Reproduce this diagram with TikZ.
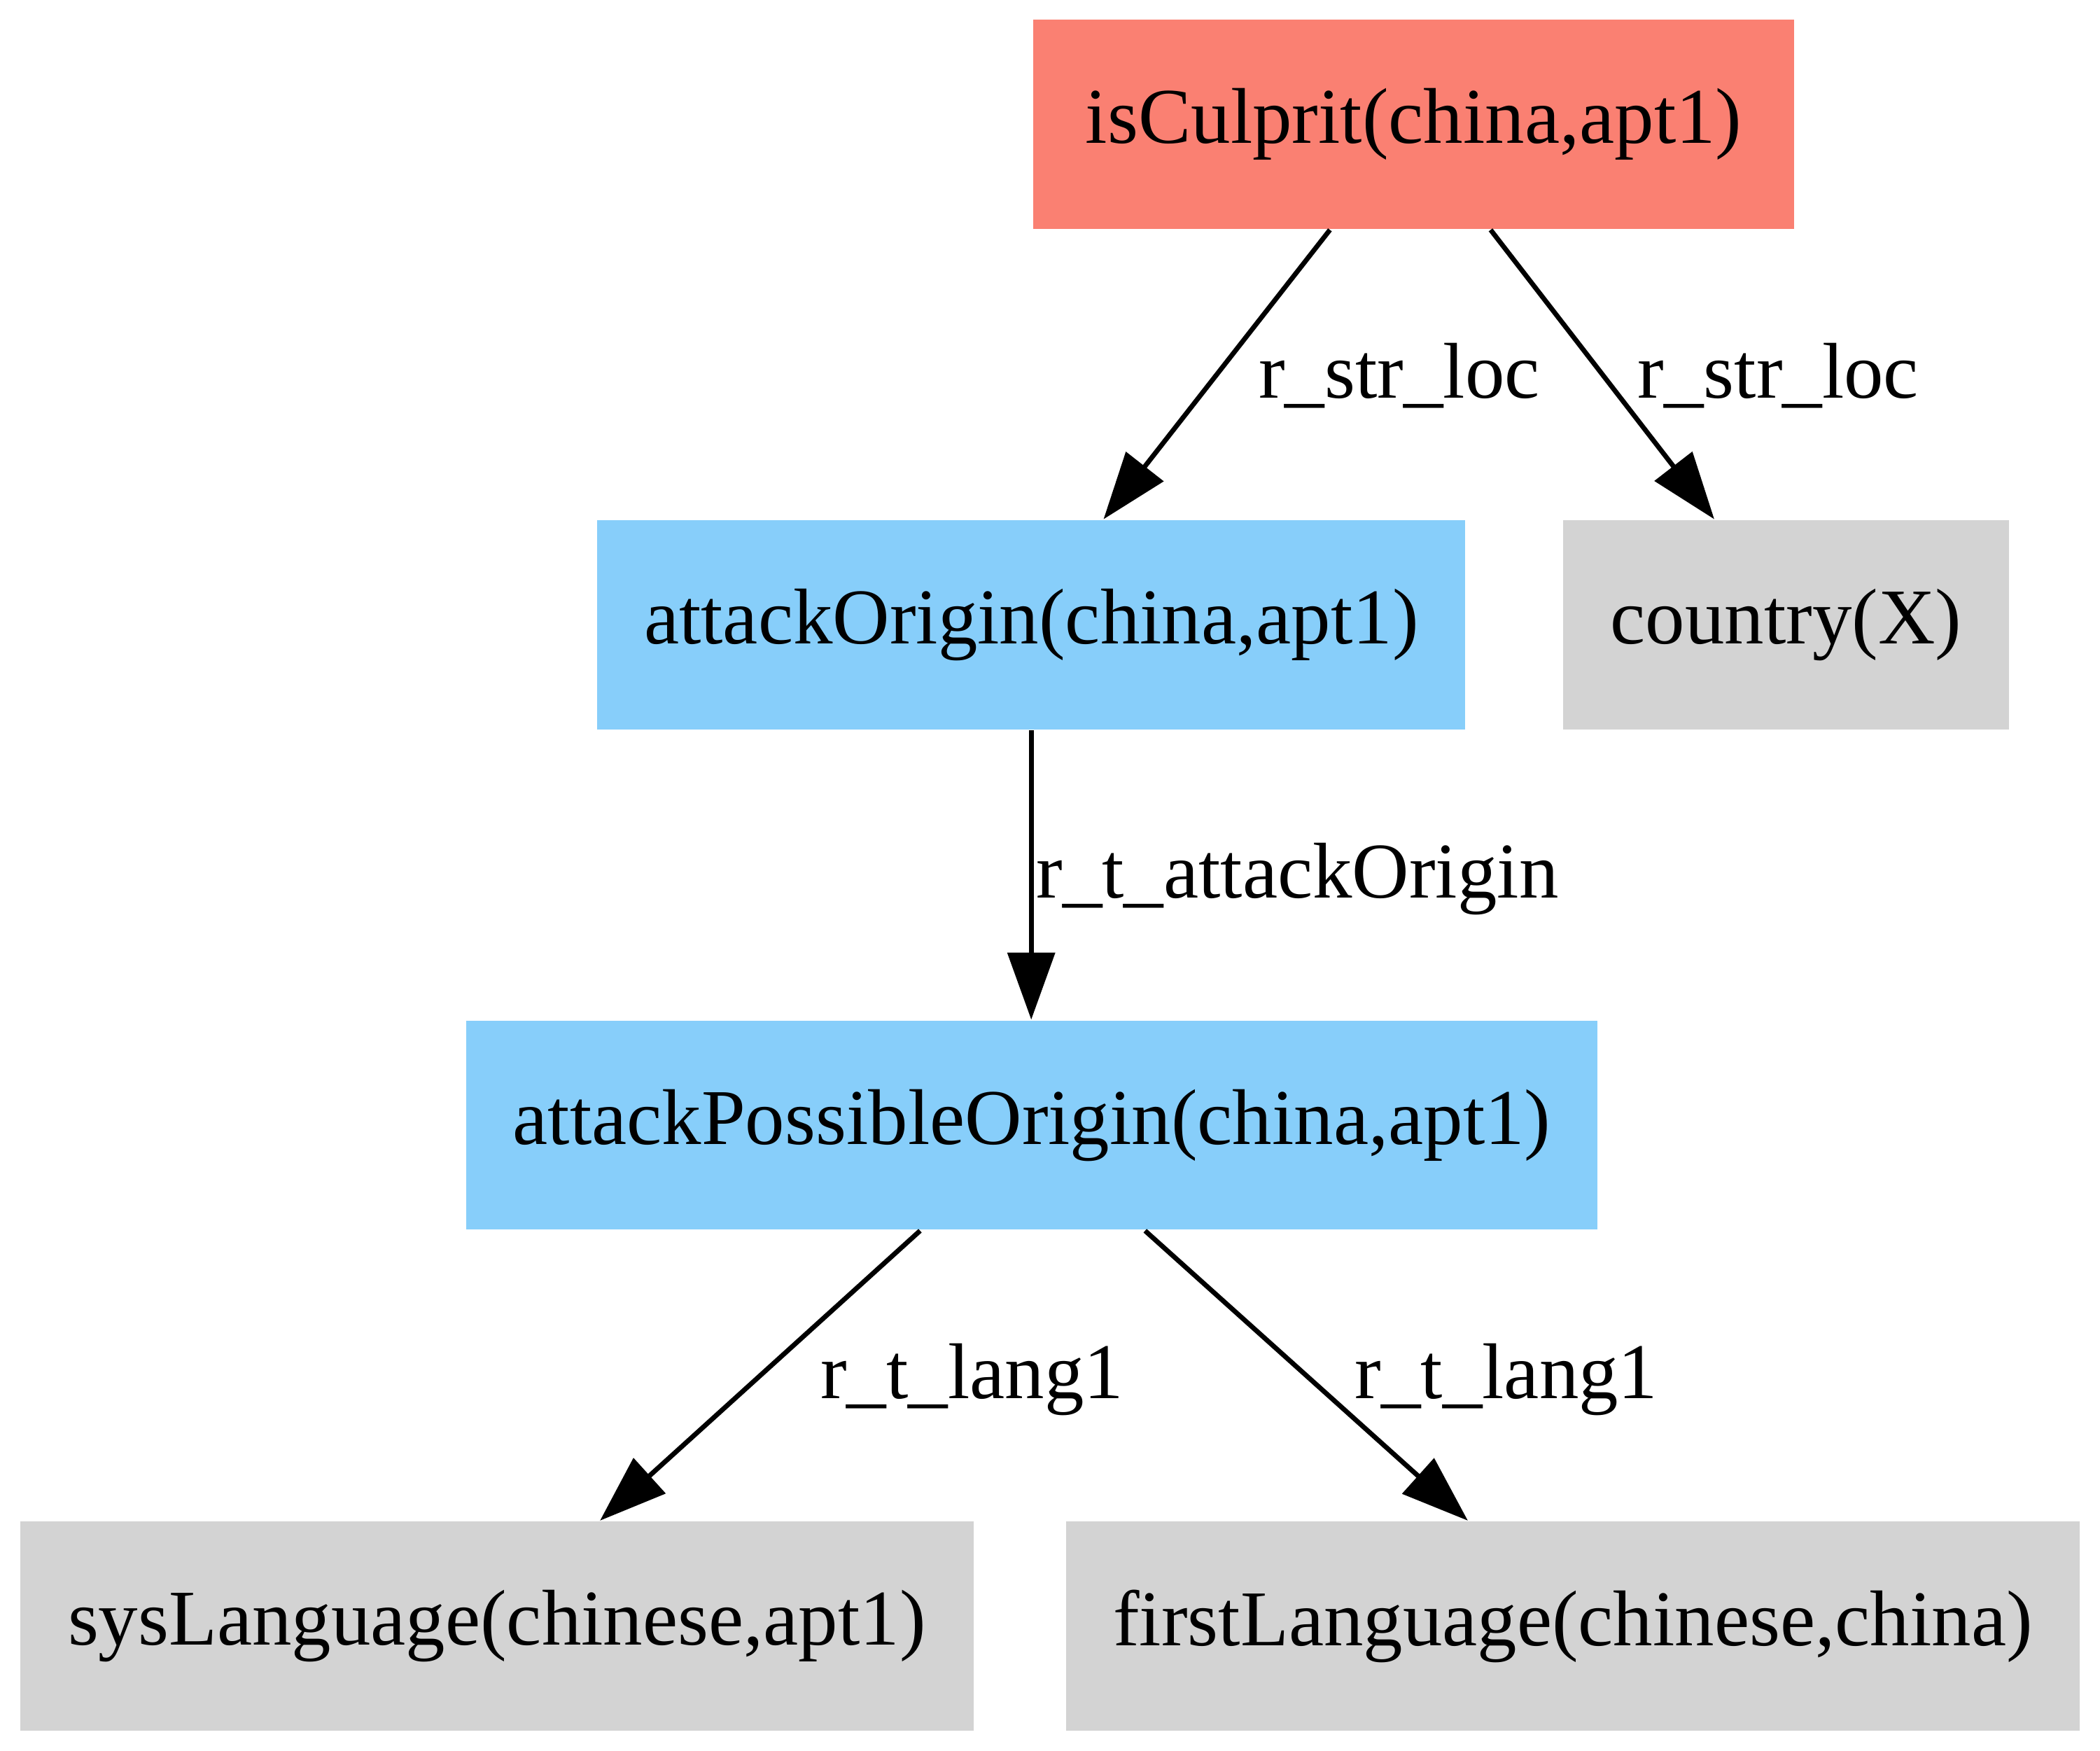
\documentclass[tikz,border=0pt]{standalone}
\usepackage{fontspec}
\setmainfont{Liberation Serif}
\usetikzlibrary{arrows.meta}
\definecolor{GoalSalmon}{HTML}{FA8072}
\definecolor{DerivedSky}{HTML}{87CEFA}
\definecolor{FactGray}{HTML}{D3D3D3}
\tikzset{
  link/.style={-{Triangle[length=12.5pt,width=8.75pt]}, line width=0.9pt, draw=black},
  pred/.style={draw=none, inner sep=0pt, minimum height=39pt},
  goal/.style={pred, fill=GoalSalmon},
  derived/.style={pred, fill=DerivedSky},
  fact/.style={pred, fill=FactGray},
  rel/.style={midway, anchor=base west, inner sep=0pt},
}

\begin{document}
\begin{tikzpicture}[font=\fontsize{14.75pt}{17pt}\selectfont]
    \useasboundingbox (0,0) rectangle (392pt,-326.75pt);
    % rank 1
    \node[goal,minimum width=142.1pt] (isCulprit) at (263.9pt,-23.2pt) {isCulprit(china,apt1)};
    % rank 2
    \node[derived,minimum width=162pt] (attackOrigin) at (192.5pt,-116.6pt) {attackOrigin(china,apt1)};
    \node[fact,minimum width=83.25pt] (country) at (333.4pt,-116.6pt) {country(X)};
    % rank 3
    \node[derived,minimum width=211.25pt] (possibleOrigin) at (192.6pt,-210pt) {attackPossibleOrigin(china,apt1)};
    % rank 4
    \node[fact,minimum width=178pt] (sysLanguage) at (92.75pt,-303.5pt) {sysLanguage(chinese,apt1)};
    \node[fact,minimum width=189.25pt] (firstLanguage) at (293.6pt,-303.5pt) {firstLanguage(chinese,china)};
    \draw[link] ([xshift=-15.65pt]isCulprit.south) -- ([xshift=13.5pt]attackOrigin.north)
      node[rel,xshift=7.4pt,yshift=-4.4pt] {r\_str\_loc};
    \draw[link] ([xshift=14.35pt]isCulprit.south) -- ([xshift=-13.4pt]country.north)
      node[rel,xshift=6.15pt,yshift=-4.4pt] {r\_str\_loc};
    \draw[link] (attackOrigin.south) -- (attackOrigin.south |- possibleOrigin.north)
      node[rel,xshift=0.5pt,yshift=-4.3pt] {r\_t\_attackOrigin};
    \draw[link] ([xshift=-20.85pt]possibleOrigin.south) -- ([xshift=19.25pt]sysLanguage.north)
      node[rel,xshift=10.85pt,yshift=-4.25pt] {r\_t\_lang1};
    \draw[link] ([xshift=21.15pt]possibleOrigin.south) -- ([xshift=-19.6pt]firstLanguage.north)
      node[rel,xshift=8.6pt,yshift=-4.25pt] {r\_t\_lang1};
  \end{tikzpicture}
\end{document}
